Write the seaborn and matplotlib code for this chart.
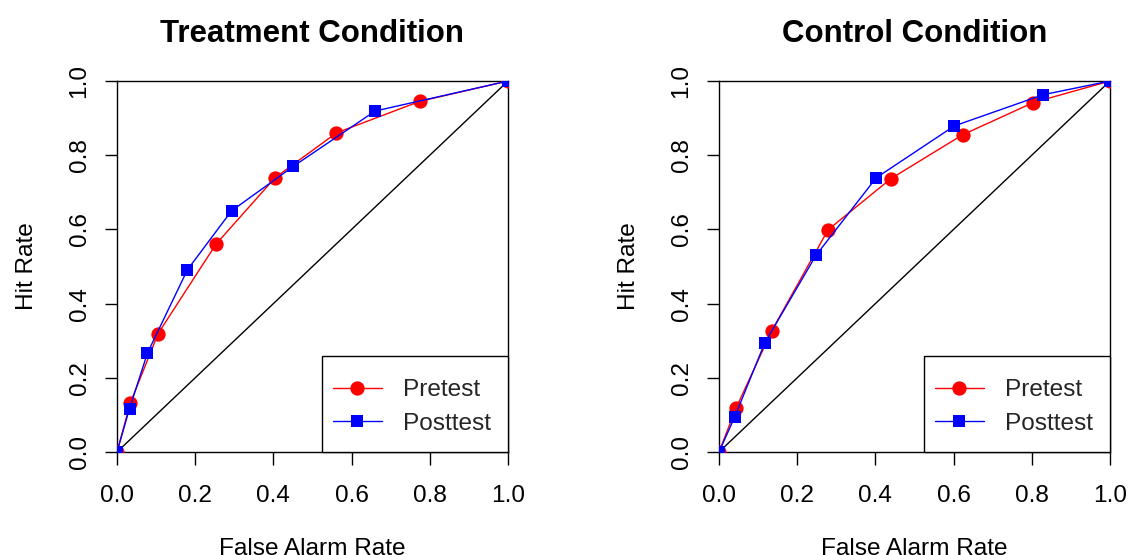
import matplotlib
matplotlib.use("Agg")
import matplotlib.pyplot as plt
import seaborn as sns
import pandas as pd
from matplotlib.lines import Line2D
from matplotlib.patches import Rectangle

# ---- data ----
treat_pre_far = [0.0, 0.034, 0.105, 0.253, 0.404, 0.561, 0.774, 1.0]
treat_pre_hit = [0.0, 0.132, 0.319, 0.560, 0.739, 0.860, 0.945, 1.0]
treat_post_far = [0.0, 0.032, 0.078, 0.180, 0.293, 0.451, 0.660, 1.0]
treat_post_hit = [0.0, 0.117, 0.267, 0.491, 0.650, 0.770, 0.919, 1.0]

ctrl_pre_far = [0.0, 0.044, 0.135, 0.279, 0.440, 0.623, 0.804, 1.0]
ctrl_pre_hit = [0.0, 0.119, 0.327, 0.599, 0.737, 0.855, 0.942, 1.0]
ctrl_post_far = [0.0, 0.040, 0.117, 0.248, 0.402, 0.602, 0.829, 1.0]
ctrl_post_hit = [0.0, 0.094, 0.294, 0.530, 0.739, 0.879, 0.963, 1.0]

titles = ["Treatment Condition", "Control Condition"]
series_names = ["Pretest", "Posttest"]
tick_vals = [0.0, 0.2, 0.4, 0.6, 0.8, 1.0]
tick_labels = ["0.0", "0.2", "0.4", "0.6", "0.8", "1.0"]

def make_df(pre_x, pre_y, post_x, post_y):
    rows = []
    for x, y in zip(pre_x, pre_y):
        rows.append({"far": x, "hit": y, "test": "Pretest"})
    for x, y in zip(post_x, post_y):
        rows.append({"far": x, "hit": y, "test": "Posttest"})
    return pd.DataFrame(rows)

dfs = [make_df(treat_pre_far, treat_pre_hit, treat_post_far, treat_post_hit),
       make_df(ctrl_pre_far, ctrl_pre_hit, ctrl_post_far, ctrl_post_hit)]

sns.set_theme(style="ticks")
plt.rcParams["font.family"] = ["Liberation Sans", "DejaVu Sans"]

FS = 17.6
colors = {"Pretest": "#FF0000", "Posttest": "#0000FF"}
markers = {"Pretest": "o", "Posttest": "s"}
msize = {"Pretest": 10.3, "Posttest": 9.0}

fig = plt.figure(figsize=(11.3, 5.55), dpi=100)
W, H = 1130, 555
lefts = [117, 719]
for i, left in enumerate(lefts):
    ax = fig.add_axes([left / W, (H - 452) / H, 391 / W, 371 / H])
    df = dfs[i]
    ax.plot([0, 1], [0, 1], color="black", lw=1.0, zorder=1)
    for name in series_names:
        sub = df[df["test"] == name]
        sns.lineplot(data=sub, x="far", y="hit", ax=ax, color=colors[name],
                     marker=markers[name], markersize=msize[name],
                     markeredgewidth=0, lw=1.0, sort=False, estimator=None,
                     legend=False, zorder=3)
    ax.set_xlim(0, 1)
    ax.set_ylim(0, 1)
    ax.set_xticks(tick_vals)
    ax.set_xticklabels(tick_labels)
    ax.set_yticks(tick_vals)
    ax.set_yticklabels(tick_labels, rotation=90, va="center")
    ax.tick_params(axis="both", labelsize=FS, length=9, width=1.0,
                   color="black", labelcolor="black", direction="out")
    ax.tick_params(axis="x", pad=15)
    ax.tick_params(axis="y", pad=10)
    for sp in ax.spines.values():
        sp.set_visible(True)
        sp.set_color("black")
        sp.set_linewidth(1.0)
    ax.set_xlabel("False Alarm Rate", fontsize=FS, color="black", labelpad=22)
    ax.set_ylabel("Hit Rate", fontsize=FS, color="black", labelpad=22)
    ax.set_title(titles[i], fontsize=22.5, fontweight="bold", pad=28, color="black")

    # legend box (R-style, flush to bottom-right corner)
    bx0 = 205 / 391
    by1 = 96 / 371
    ax.add_patch(Rectangle((bx0, 0), 1 - bx0, by1, transform=ax.transAxes,
                           facecolor="white", edgecolor="black", lw=1.0,
                           zorder=5, clip_on=False))
    handles = [Line2D([], [], color=colors[n], marker=markers[n],
                      markersize=msize[n], markeredgewidth=0, lw=1.0)
               for n in series_names]
    leg = ax.legend(handles, series_names, loc="center",
                    bbox_to_anchor=((bx0 + 1) / 2 - 0.008, by1 / 2 - 0.008),
                    fontsize=FS, frameon=False, borderaxespad=0,
                    handlelength=2.0, handletextpad=0.85, labelspacing=0.45,
                    borderpad=0.0)
    leg.set_zorder(6)

fig.savefig("out.png", dpi=100, facecolor="white")
